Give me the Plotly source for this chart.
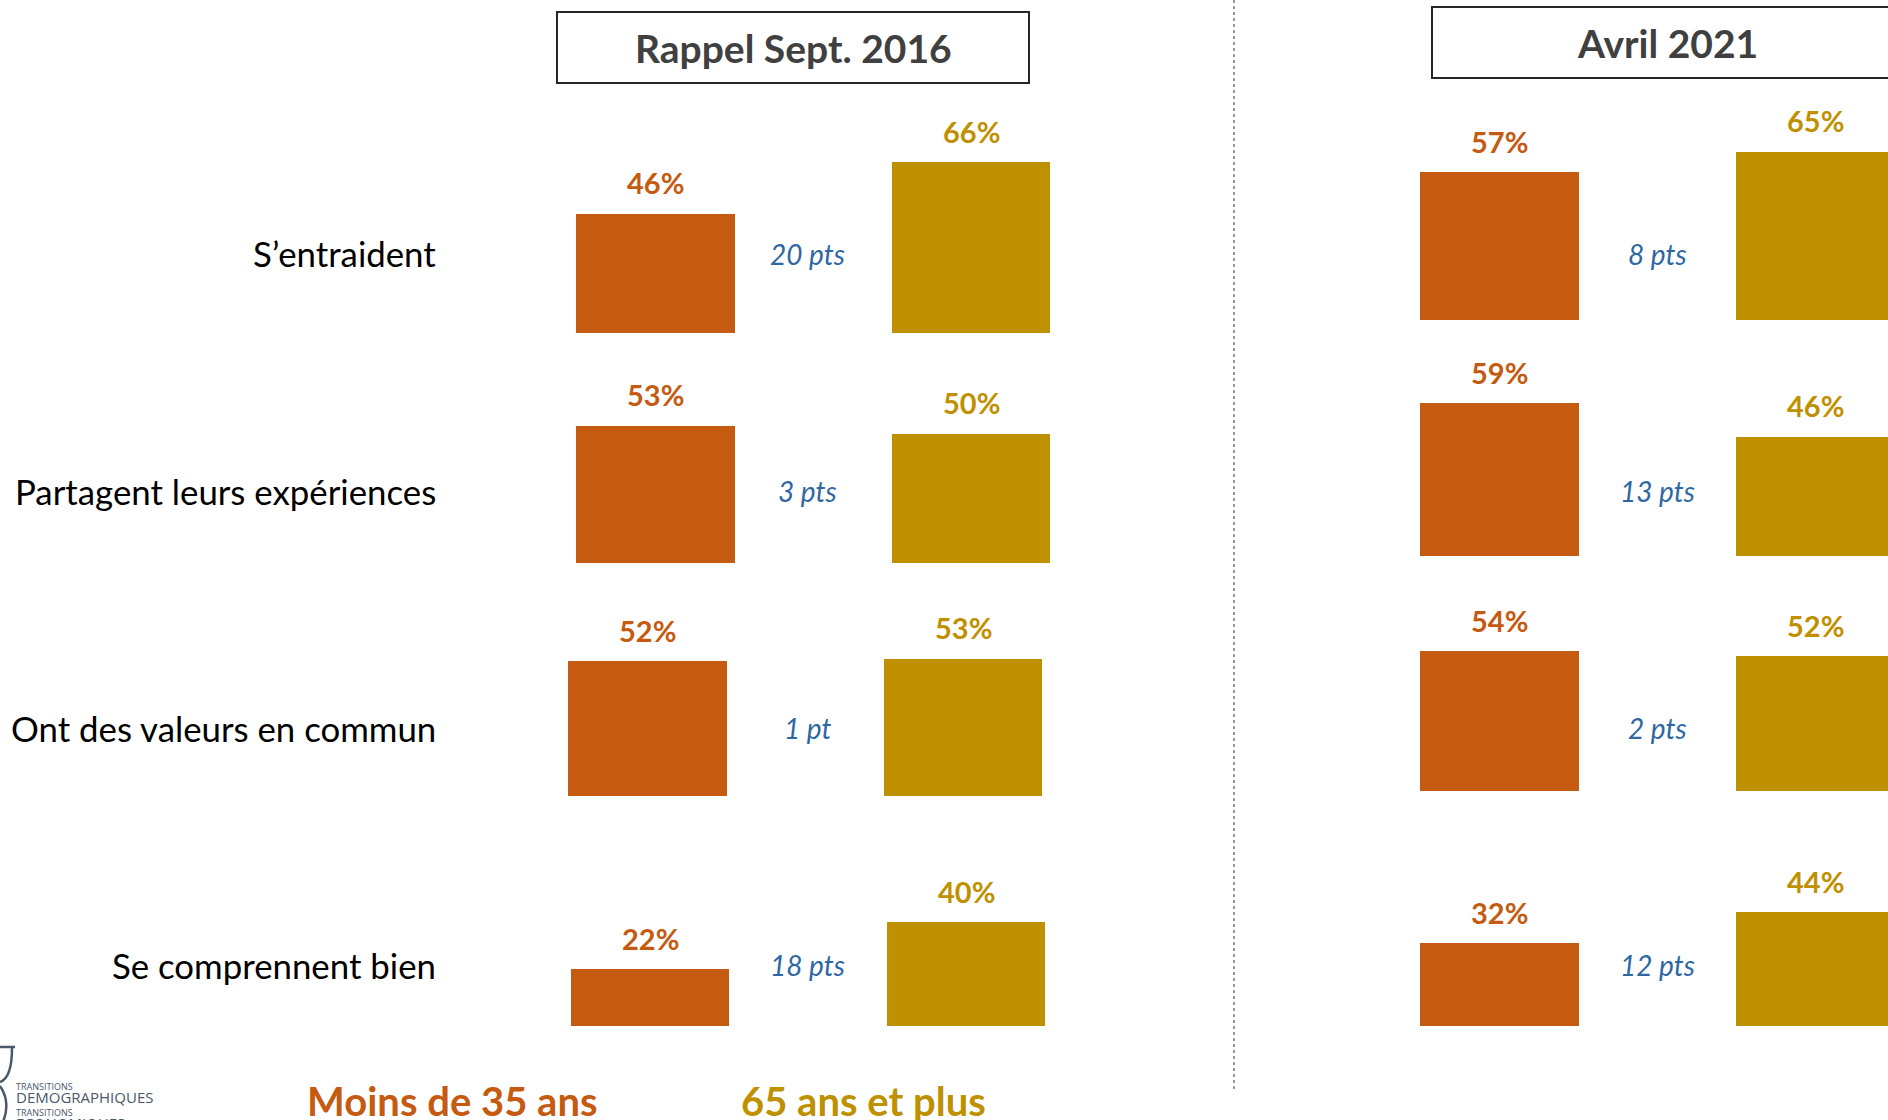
import plotly.graph_objects as go

# ---------------- data ----------------
categories = ["S’entraident", "Partagent leurs expériences",
              "Ont des valeurs en commun", "Se comprennent bien"]
groups = ["Moins de 35 ans", "65 ans et plus"]
panel_titles = ["Rappel Sept. 2016", "Avril 2021"]
young_2016 = [46, 53, 52, 22]
old_2016 = [66, 50, 53, 40]
young_2021 = [57, 59, 54, 32]
old_2021 = [65, 46, 52, 44]

# ---------------- styling / layout constants ----------------
W, H = 1888, 1120
ORANGE = "#C55A11"
GOLD = "#BF9000"
BLUE = "#2F67A3"
TITLE_GREY = "#404040"
FONT = "Lato"
PX_PER_PCT = 2.59

panels = [
    dict(young=young_2016, old=old_2016, title=panel_titles[0],
         baselines=[333, 563, 796, 1026],
         centers=[(655.5, 971), (655.5, 971), (647.5, 963), (650, 966)],
         bar_px=158.5, dom=(440, 1200), diff_x=807,
         box=(557, 12, 1029, 83)),
    dict(young=young_2021, old=old_2021, title=panel_titles[1],
         baselines=[320, 556, 791, 1026],
         centers=[(1499.5, 1815.5)] * 4,
         bar_px=159, dom=(1240, 1888), diff_x=1657,
         box=(1432, 7, 1902, 78)),
]
row_label_y = [254, 491, 728, 965]
DOMAIN_PX = 200


def px(x):
    return x / W


def py(y):
    return 1 - y / H


fig = go.Figure()
layout = {}
annotations = []
shapes = []

n = 0
for p in panels:
    for r in range(4):
        n += 1
        sfx = "" if n == 1 else str(n)
        cx0, cx1 = p["centers"][r]
        u = cx1 - cx0
        d0, d1 = p["dom"]
        xr = [-(cx0 - d0) / u, 1 + (d1 - cx1) / u]
        base = p["baselines"][r]
        vals = [p["young"][r], p["old"][r]]
        fig.add_trace(go.Bar(
            x=groups, y=vals, width=p["bar_px"] / u,
            marker=dict(color=[ORANGE, GOLD], line=dict(width=0)),
            xaxis="x" + sfx, yaxis="y" + sfx, hoverinfo="skip",
        ))
        layout["xaxis" + sfx] = dict(
            domain=[px(d0), px(d1)], range=xr, type="category",
            categoryorder="array", categoryarray=groups,
            anchor="y" + sfx, visible=False, fixedrange=True)
        layout["yaxis" + sfx] = dict(
            domain=[py(base), py(base - DOMAIN_PX)],
            range=[0, DOMAIN_PX / PX_PER_PCT], anchor="x" + sfx,
            visible=False, fixedrange=True)
        for g, v, c in zip(groups, vals, [ORANGE, GOLD]):
            annotations.append(dict(
                xref="x" + sfx, yref="y" + sfx, x=g, y=v, text=f"<b>{v}%</b>",
                showarrow=False, yanchor="middle", yshift=31,
                font=dict(family=FONT, size=29, color=c)))
        diff = abs(vals[1] - vals[0])
        annotations.append(dict(
            xref="paper", yref="paper", x=px(p["diff_x"]), y=py(row_label_y[r]),
            text=f"<i>{diff} {'pt' if diff == 1 else 'pts'}</i>",
            showarrow=False, xanchor="center", yanchor="middle",
            font=dict(family=FONT, size=28, color=BLUE)))
    # panel title box
    bx0, by0, bx1, by1 = p["box"]
    shapes.append(dict(type="rect", xref="paper", yref="paper",
                       x0=px(bx0), x1=px(bx1), y0=py(by1), y1=py(by0),
                       line=dict(color="#262626", width=2), fillcolor="rgba(0,0,0,0)"))
    annotations.append(dict(
        xref="paper", yref="paper", x=px((bx0 + bx1) / 2), y=py((by0 + by1) / 2),
        text=f"<b>{p['title']}</b>", showarrow=False, xanchor="center", yanchor="middle",
        font=dict(family=FONT, size=39, color=TITLE_GREY)))

# row labels
for cat, y in zip(categories, row_label_y):
    annotations.append(dict(
        xref="paper", yref="paper", x=px(437.5), y=py(y), text=cat,
        showarrow=False, xanchor="right", yanchor="middle",
        font=dict(family=FONT, size=34.8, color="#000000")))

# legend texts
for g, c, xc in zip(groups, [ORANGE, GOLD], [452, 863]):
    annotations.append(dict(
        xref="paper", yref="paper", x=px(xc), y=py(1101), text=f"<b>{g}</b>",
        showarrow=False, xanchor="center", yanchor="middle",
        font=dict(family=FONT, size=40, color=c)))

# separator dashed line
shapes.append(dict(type="line", xref="paper", yref="paper",
                   x0=px(1234), x1=px(1234), y0=py(0), y1=py(1092),
                   line=dict(color="#555555", width=1.2, dash="3px,3px")))

# logo (bottom-left)
LOGO = "#4A5868"
shapes.append(dict(type="path", xref="paper", yref="paper",
                   path=(f"M {px(0)},{py(1047)} L {px(15)},{py(1047)} "
                         f"M {px(12)},{py(1048)} Q {px(12)},{py(1078)} {px(0)},{py(1082)} "
                         f"M {px(0)},{py(1086)} Q {px(11)},{py(1102)} {px(3)},{py(1122)}"),
                   line=dict(color=LOGO, width=2.5)))
logo_text = ("<span style='font-size:9px'>TRANSITIONS</span><br>"
             "<span style='font-size:15px'>DEMOGRAPHIQUES</span><br>"
             "<span style='font-size:9px'>TRANSITIONS</span><br>"
             "<span style='font-size:15px'>ECONOMIQUES</span>")
annotations.append(dict(
    xref="paper", yref="paper", x=px(14), y=py(1078), text=logo_text,
    showarrow=False, xanchor="left", yanchor="top", align="left",
    font=dict(family="Open Sans", size=10, color=LOGO)))

fig.update_layout(
    width=W, height=H, margin=dict(l=0, r=0, t=0, b=0),
    paper_bgcolor="white", plot_bgcolor="white", showlegend=False,
    bargap=0, annotations=annotations, shapes=shapes, **layout)

fig.write_html("out.html", config={"displayModeBar": False},
               post_script="document.body.style.margin='0';document.body.style.overflow='hidden';")
